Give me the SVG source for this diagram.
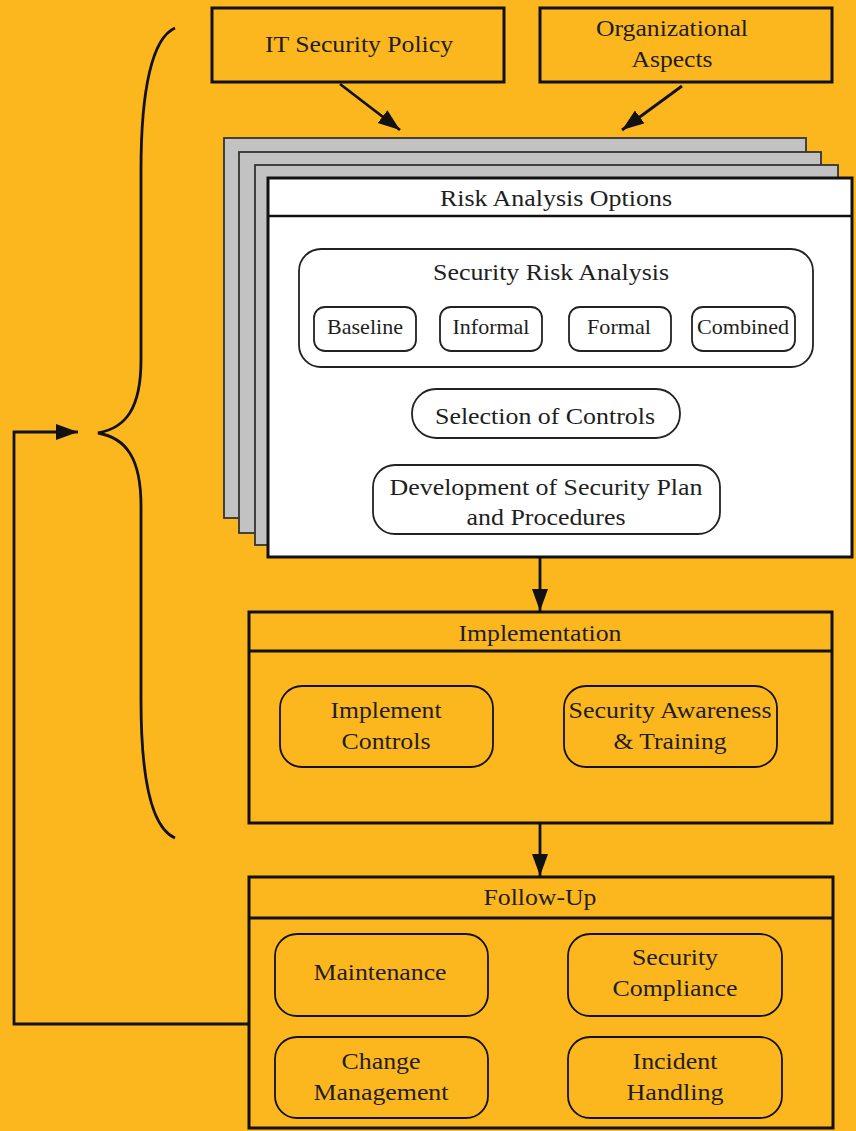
<svg xmlns="http://www.w3.org/2000/svg" width="856" height="1131" viewBox="0 0 856 1131">
<style>
text{font-family:"Liberation Serif","DejaVu Serif",serif;fill:#1e1e1e;text-anchor:middle}
.t{font-size:24px}
.s{font-size:21px}
.box{fill:#FDB71E;stroke:#111;stroke-width:3}
.rb{fill:#FDB71E;stroke:#111;stroke-width:1.8}
.wb{fill:#fff;stroke:#222;stroke-width:1.8}
.page{fill:#C1C2C1;stroke:#333;stroke-width:1.8}
.conn{fill:none;stroke:#111;stroke-width:2.8}
</style>
<defs>
<marker id="ah" markerUnits="userSpaceOnUse" markerWidth="24" markerHeight="18" refX="22" refY="8" orient="auto">
<path d="M0,0 L22,8 L0,16 z" fill="#111"/>
</marker>
</defs>
<rect x="0" y="0" width="856" height="1131" fill="#FDB71E"/>

<g id="brace">
<path d="M175,28 C152,38 141,90 141,170 L141,360 C141,408 126,428 98,433 C126,438 141,458 141,506 L141,700 C141,780 152,828 175,838" fill="none" stroke="#111" stroke-width="2.8"/>
</g>

<g id="connectors">
<path class="conn" d="M340,84 L400,130" marker-end="url(#ah)"/>
<path class="conn" d="M682,86 L622,130" marker-end="url(#ah)"/>
<path class="conn" d="M540,558 L540,611" marker-end="url(#ah)"/>
<path class="conn" d="M540,823 L540,876" marker-end="url(#ah)"/>
<path class="conn" d="M249,1024 L14,1024 L14,432 L78,432" marker-end="url(#ah)"/>
</g>

<g id="it-security-policy">
<rect class="box" x="212" y="8" width="292" height="74"/>
<text class="t" x="359" y="52" textLength="188" lengthAdjust="spacingAndGlyphs">IT Security Policy</text>
</g>
<g id="organizational-aspects">
<rect class="box" x="540" y="8" width="292" height="74"/>
<text class="t" x="672" y="36" textLength="152" lengthAdjust="spacingAndGlyphs">Organizational</text>
<text class="t" x="672" y="67" textLength="81" lengthAdjust="spacingAndGlyphs">Aspects</text>
</g>

<g id="risk-analysis-options">
<rect class="page" x="224" y="138" width="582" height="380"/>
<rect class="page" x="239" y="152" width="582" height="381"/>
<rect class="page" x="255" y="165" width="583" height="380"/>
<rect x="268" y="178" width="584" height="379" fill="#fff" stroke="#111" stroke-width="3"/>
<line x1="268" y1="216" x2="852" y2="216" stroke="#111" stroke-width="2.5"/>
<text class="t" x="556" y="206" textLength="232" lengthAdjust="spacingAndGlyphs">Risk Analysis Options</text>
</g>

<g id="security-risk-analysis">
<rect class="wb" x="299" y="249" width="514" height="118" rx="22"/>
<text class="t" x="551" y="280" textLength="236" lengthAdjust="spacingAndGlyphs">Security Risk Analysis</text>
</g>
<g id="baseline">
<rect class="wb" x="314" y="307" width="102" height="44" rx="11"/>
<text class="s" x="365" y="334" textLength="76" lengthAdjust="spacingAndGlyphs">Baseline</text>
</g>
<g id="informal">
<rect class="wb" x="440" y="307" width="102" height="44" rx="11"/>
<text class="s" x="491" y="334" textLength="77" lengthAdjust="spacingAndGlyphs">Informal</text>
</g>
<g id="formal">
<rect class="wb" x="569" y="307" width="102" height="44" rx="11"/>
<text class="s" x="619" y="334" textLength="64" lengthAdjust="spacingAndGlyphs">Formal</text>
</g>
<g id="combined">
<rect class="wb" x="692" y="307" width="103" height="44" rx="11"/>
<text class="s" x="743" y="334" textLength="92" lengthAdjust="spacingAndGlyphs">Combined</text>
</g>
<g id="selection-of-controls">
<rect class="wb" x="412" y="389" width="268" height="49" rx="24"/>
<text class="t" x="545" y="424" textLength="220" lengthAdjust="spacingAndGlyphs">Selection of Controls</text>
</g>
<g id="development">
<rect class="wb" x="373" y="465" width="347" height="69" rx="22"/>
<text class="t" x="546" y="495" textLength="313" lengthAdjust="spacingAndGlyphs">Development of Security Plan</text>
<text class="t" x="546" y="525" textLength="159" lengthAdjust="spacingAndGlyphs">and Procedures</text>
</g>

<g id="implementation">
<rect class="box" x="249" y="612" width="583" height="211"/>
<line x1="249" y1="651" x2="832" y2="651" stroke="#111" stroke-width="3"/>
<text class="t" x="540" y="641" textLength="163" lengthAdjust="spacingAndGlyphs">Implementation</text>
</g>
<g id="implement-controls">
<rect class="rb" x="280" y="686" width="213" height="81" rx="22"/>
<text class="t" x="386" y="718" textLength="111" lengthAdjust="spacingAndGlyphs">Implement</text>
<text class="t" x="386" y="749" textLength="89" lengthAdjust="spacingAndGlyphs">Controls</text>
</g>
<g id="security-awareness">
<rect class="rb" x="564" y="686" width="213" height="81" rx="22"/>
<text class="t" x="670" y="718" textLength="203" lengthAdjust="spacingAndGlyphs">Security Awareness</text>
<text class="t" x="670" y="749" textLength="113" lengthAdjust="spacingAndGlyphs">&amp; Training</text>
</g>

<g id="follow-up">
<rect class="box" x="249" y="877" width="584" height="251"/>
<line x1="249" y1="918" x2="833" y2="918" stroke="#111" stroke-width="3"/>
<text class="t" x="540" y="905" textLength="113" lengthAdjust="spacingAndGlyphs">Follow-Up</text>
</g>
<g id="maintenance">
<rect class="rb" x="275" y="934" width="213" height="82" rx="22"/>
<text class="t" x="380" y="980" textLength="133" lengthAdjust="spacingAndGlyphs">Maintenance</text>
</g>
<g id="security-compliance">
<rect class="rb" x="568" y="934" width="214" height="82" rx="22"/>
<text class="t" x="675" y="965" textLength="86" lengthAdjust="spacingAndGlyphs">Security</text>
<text class="t" x="675" y="996" textLength="125" lengthAdjust="spacingAndGlyphs">Compliance</text>
</g>
<g id="change-management">
<rect class="rb" x="275" y="1037" width="213" height="81" rx="22"/>
<text class="t" x="381" y="1069" textLength="79" lengthAdjust="spacingAndGlyphs">Change</text>
<text class="t" x="381" y="1100" textLength="135" lengthAdjust="spacingAndGlyphs">Management</text>
</g>
<g id="incident-handling">
<rect class="rb" x="568" y="1037" width="214" height="81" rx="22"/>
<text class="t" x="675" y="1069" textLength="85" lengthAdjust="spacingAndGlyphs">Incident</text>
<text class="t" x="675" y="1100" textLength="97" lengthAdjust="spacingAndGlyphs">Handling</text>
</g>
</svg>
